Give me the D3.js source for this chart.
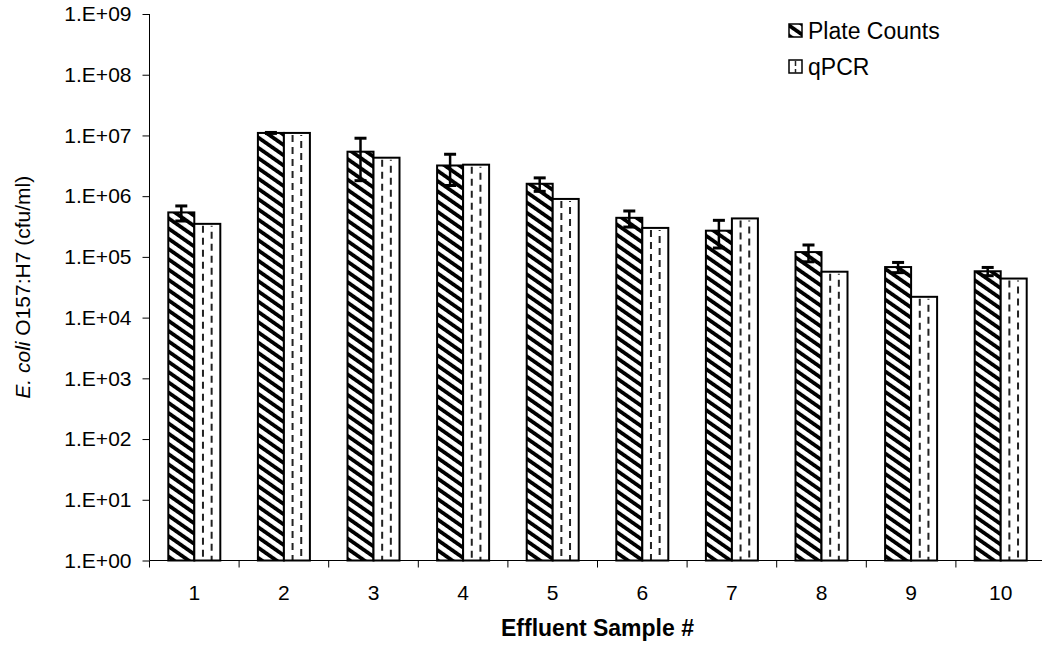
<!DOCTYPE html>
<html>
<head>
<meta charset="utf-8">
<script src="https://cdn.jsdelivr.net/npm/d3@7"></script>
<style>
  html, body { margin: 0; padding: 0; background: #fff; }
  svg { display: block; font-family: "Liberation Sans", Arial, sans-serif; }
</style>
</head>
<body>
<svg id="chart" width="1042" height="647"></svg>
<script>
// Effluent samples on the x axis
const categories = ["1", "2", "3", "4", "5", "6", "7", "8", "9", "10"];
// E. coli O157:H7 by plate counts (cfu/ml) and its standard deviation
const plateCounts = [5.4e5, 1.1e7, 5.4e6, 3.2e6, 1.6e6, 4.4e5, 2.7e5, 1.2e5, 6.8e4, 5.8e4];
const plateError  = [1.5e5, 2.0e5, 3.6e6, 1.7e6, 4.0e5, 1.3e5, 1.3e5, 3.7e4, 1.3e4, 9.0e3];
// E. coli O157:H7 by qPCR (cfu/ml)
const qpcrCounts  = [3.5e5, 1.1e7, 4.3e6, 3.3e6, 9.0e5, 3.0e5, 4.3e5, 5.7e4, 2.2e4, 4.4e4];
// Log axis ticks and their labels
const yTickValues = [1e0, 1e1, 1e2, 1e3, 1e4, 1e5, 1e6, 1e7, 1e8, 1e9];
const yTickLabels = ["1.E+00", "1.E+01", "1.E+02", "1.E+03", "1.E+04",
                     "1.E+05", "1.E+06", "1.E+07", "1.E+08", "1.E+09"];
const seriesNames = ["Plate Counts", "qPCR"];

const svg = d3.select("#chart");
const plot = { left: 149.5, right: 1045.5, top: 14, bottom: 560.5 };

const y = d3.scaleLog().domain([1, 1e9]).range([plot.bottom, plot.top]);
const x = d3.scaleBand().domain(categories).range([plot.left, plot.right]).padding(0);
const xs = d3.scaleBand().domain(seriesNames).range([0, x.bandwidth()])
  .paddingInner(0).paddingOuter(0.723);

// Fill patterns: diagonal hatch for plate counts
const defs = svg.append("defs");
const hatch = defs.append("pattern")
  .attr("id", "hatch")
  .attr("patternUnits", "userSpaceOnUse")
  .attr("width", 8.4).attr("height", 8.4)
  .attr("patternTransform", "rotate(-55)");
hatch.append("rect").attr("width", 8.4).attr("height", 8.4).attr("fill", "#fff");
hatch.append("rect").attr("width", 3.8).attr("height", 8.4).attr("fill", "#000");

svg.append("rect").attr("width", 1042).attr("height", 647).attr("fill", "#fff");

const rows = categories.map((c, i) => ({
  cat: c, plate: plateCounts[i], err: plateError[i], qpcr: qpcrCounts[i]
}));

// Plate-count bars
const gBars = svg.append("g");
gBars.selectAll("rect.plate").data(rows).join("rect")
  .attr("class", "plate")
  .attr("x", d => x(d.cat) + xs("Plate Counts"))
  .attr("y", d => y(d.plate))
  .attr("width", xs.bandwidth())
  .attr("height", d => plot.bottom - y(d.plate))
  .attr("fill", "url(#hatch)")
  .attr("stroke", "#000").attr("stroke-width", 2);

// qPCR bars: white with two dashed vertical rules
const q = gBars.selectAll("g.qpcr").data(rows).join("g").attr("class", "qpcr");
q.append("rect")
  .attr("x", d => x(d.cat) + xs("qPCR"))
  .attr("y", d => y(d.qpcr))
  .attr("width", xs.bandwidth())
  .attr("height", d => plot.bottom - y(d.qpcr))
  .attr("fill", "#fff");
[1 / 3, 2 / 3].forEach((f, k) => {
  q.append("line")
    .attr("x1", d => x(d.cat) + xs("qPCR") + xs.bandwidth() * f)
    .attr("x2", d => x(d.cat) + xs("qPCR") + xs.bandwidth() * f)
    .attr("y1", d => y(d.qpcr) + 2)
    .attr("y2", plot.bottom)
    .attr("stroke", "#222").attr("stroke-width", 2)
    .attr("stroke-dasharray", "7,5")
    .attr("stroke-dashoffset", k === 0 ? 0 : 6);
});
q.append("rect")
  .attr("x", d => x(d.cat) + xs("qPCR"))
  .attr("y", d => y(d.qpcr))
  .attr("width", xs.bandwidth())
  .attr("height", d => plot.bottom - y(d.qpcr))
  .attr("fill", "none")
  .attr("stroke", "#000").attr("stroke-width", 2);

// Error bars on plate counts
const gErr = svg.append("g").attr("stroke", "#000");
const cx = d => x(d.cat) + xs("Plate Counts") + xs.bandwidth() / 2;
gErr.selectAll("line.stem").data(rows).join("line")
  .attr("class", "stem")
  .attr("x1", cx).attr("x2", cx)
  .attr("y1", d => y(d.plate + d.err))
  .attr("y2", d => y(d.plate - d.err))
  .attr("stroke-width", 2.5);
gErr.selectAll("line.capTop").data(rows).join("line")
  .attr("class", "capTop")
  .attr("x1", d => cx(d) - 6).attr("x2", d => cx(d) + 6)
  .attr("y1", d => y(d.plate + d.err)).attr("y2", d => y(d.plate + d.err))
  .attr("stroke-width", 3);
gErr.selectAll("line.capBot").data(rows).join("line")
  .attr("class", "capBot")
  .attr("x1", d => cx(d) - 6).attr("x2", d => cx(d) + 6)
  .attr("y1", d => y(d.plate - d.err)).attr("y2", d => y(d.plate - d.err))
  .attr("stroke-width", 3);

// Y axis
const yAxis = d3.axisLeft(y)
  .tickValues(yTickValues)
  .tickFormat((d, i) => yTickLabels[i])
  .tickSize(7).tickPadding(11);
const gy = svg.append("g").attr("transform", `translate(${plot.left},0)`).call(yAxis);
gy.select(".domain").attr("d", `M0,${plot.top}V${plot.bottom}`).attr("stroke", "#000");
gy.selectAll(".tick line").attr("stroke", "#000");
gy.selectAll(".tick text").attr("font-size", 21).attr("fill", "#000")
  .attr("font-family", "'Liberation Sans', Arial, sans-serif");

// X axis: line, ticks between categories, labels centred under each pair
const gx = svg.append("g");
gx.append("line")
  .attr("x1", plot.left).attr("x2", plot.right)
  .attr("y1", plot.bottom).attr("y2", plot.bottom)
  .attr("stroke", "#000").attr("stroke-width", 1.2);
gx.selectAll("line.tk").data(categories.concat(["end"])).join("line")
  .attr("class", "tk")
  .attr("x1", d => d === "end" ? plot.right : x(d))
  .attr("x2", d => d === "end" ? plot.right : x(d))
  .attr("y1", plot.bottom).attr("y2", plot.bottom + 7)
  .attr("stroke", "#000");
gx.selectAll("text").data(categories).join("text")
  .attr("x", d => x(d) + x.bandwidth() / 2)
  .attr("y", 600)
  .attr("text-anchor", "middle")
  .attr("font-size", 21)
  .text(d => d);

// Axis titles
svg.append("text")
  .attr("x", (plot.left + plot.right) / 2)
  .attr("y", 636)
  .attr("text-anchor", "middle")
  .attr("font-size", 23).attr("font-weight", "bold")
  .text("Effluent Sample #");

const yt = svg.append("text")
  .attr("transform", `translate(30,${(plot.top + plot.bottom) / 2}) rotate(-90)`)
  .attr("text-anchor", "middle")
  .attr("font-size", 21);
yt.append("tspan").attr("font-style", "italic").text("E. coli");
yt.append("tspan").text(" O157:H7 (cfu/ml)");

// Legend
const legend = svg.append("g").attr("transform", "translate(808,0)");
const legendRows = [
  { name: "Plate Counts", cy: 31 },
  { name: "qPCR", cy: 67 }
];
legendRows.forEach((r, i) => {
  const g = legend.append("g");
  if (i === 0) {
    g.append("rect").attr("x", -19).attr("y", r.cy - 7).attr("width", 13).attr("height", 13)
      .attr("fill", "url(#hatch)").attr("stroke", "#000").attr("stroke-width", 1.5);
  } else {
    g.append("rect").attr("x", -19).attr("y", r.cy - 7).attr("width", 13).attr("height", 13)
      .attr("fill", "#fff").attr("stroke", "#000").attr("stroke-width", 1.5);
    g.append("line").attr("x1", -12.5).attr("x2", -12.5).attr("y1", r.cy - 6).attr("y2", r.cy + 6)
      .attr("stroke", "#222").attr("stroke-width", 1.5).attr("stroke-dasharray", "5,3");
  }
  g.append("text").attr("x", 0).attr("y", r.cy + 8)
    .attr("font-size", 23).text(r.name);
});
</script>
</body>
</html>
